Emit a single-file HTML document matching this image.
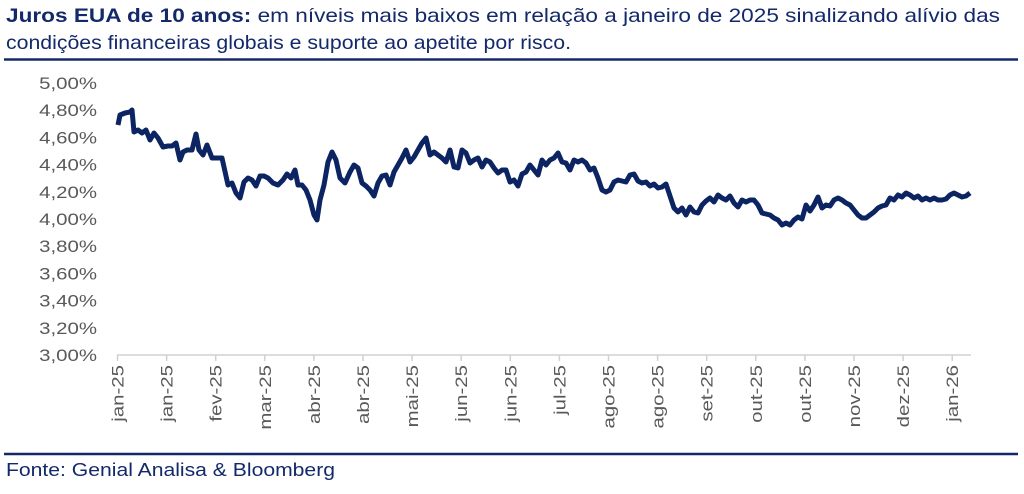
<!DOCTYPE html><html><head><meta charset="utf-8"><style>
body{margin:0;width:1024px;height:489px;background:#fff;overflow:hidden;font-family:"Liberation Sans",sans-serif}
</style></head><body>
<svg width="1024" height="489" xmlns="http://www.w3.org/2000/svg" font-family="Liberation Sans, sans-serif">
<text x="6" y="22" font-size="19.5" fill="#13296a" textLength="994" lengthAdjust="spacingAndGlyphs"><tspan font-weight="bold">Juros EUA de 10 anos:</tspan> em níveis mais baixos em relação a janeiro de 2025 sinalizando alívio das</text>
<text x="6" y="49" font-size="19.5" fill="#13296a" textLength="565" lengthAdjust="spacingAndGlyphs">condições financeiras globais e suporte ao apetite por risco.</text>
<line x1="4" y1="59.5" x2="1018" y2="59.5" stroke="#13296a" stroke-width="2.5"/>
<line x1="4" y1="454" x2="1018" y2="454" stroke="#13296a" stroke-width="2.5"/>
<text x="6" y="476" font-size="18" fill="#13296a" textLength="329" lengthAdjust="spacingAndGlyphs">Fonte: Genial Analisa &amp; Bloomberg</text>
<g font-size="17" fill="#595959" text-anchor="end" id="yl"></g>
<line x1="117" y1="355" x2="971" y2="355" stroke="#d0d0d0" stroke-width="1.5"/>
<g stroke="#d0d0d0" stroke-width="1.5" id="t"></g>
<g font-size="17" fill="#595959" id="xl"></g>
<polyline fill="none" stroke="#0c2461" stroke-width="5" stroke-linejoin="round" points="118,125 120,115 125,113 130,112 132,110 134,132 138,130 142,133 146,130 150,140 154,133 158,138 163,147 168,146 172,146 176,143 180,160 183,152 187,150 192,150 196,134 199,150 203,155 207,145 212,158 216,158 222,158 228,185 232,183 236,193 240,198 244,182 248,178 252,180 256,186 260,176 264,176 268,178 273,183 278,185 283,180 287,174 291,178 295,170 298,185 302,185 306,190 310,200 314,215 317,220 320,200 324,185 328,162 332,152 336,160 340,178 345,183 350,172 354,165 358,168 362,183 366,186 370,190 374,196 378,183 382,176 386,175 390,185 394,172 398,165 402,158 406,150 410,162 414,157 418,150 422,143 426,138 430,155 434,152 438,155 442,158 446,162 450,150 454,167 458,168 462,150 466,153 470,163 474,160 478,158 482,167 486,160 490,162 494,168 498,173 502,170 506,170 510,182 514,180 518,186 522,174 526,172 530,165 534,170 538,175 542,160 546,165 550,160 554,158 558,153 562,162 566,163 570,170 574,160 578,162 582,160 586,163 590,170 594,168 598,178 602,190 606,192 610,190 614,182 618,180 622,181 626,182 630,175 634,174 638,181 642,183 646,182 650,186 654,184 658,188 662,187 666,184 670,196 674,208 678,212 682,208 686,215 690,207 694,212 698,213 702,205 706,201 710,198 714,202 718,195 722,198 726,200 730,196 734,203 738,207 742,200 746,202 750,200 754,200 758,205 762,213 766,214 770,215 774,218 778,220 782,225 786,223 790,225 794,220 798,217 802,219 806,205 810,211 814,205 818,197 822,208 826,205 830,206 834,200 838,198 842,200 846,203 850,205 854,210 858,215 862,218 866,218 870,215 874,212 878,208 882,206 886,205 890,198 894,200 898,195 902,197 906,193 910,195 914,198 918,196 922,200 926,198 930,200 934,198 938,200 942,200 946,199 950,195 954,193 958,195 962,197 966,196 970,193"/>
</svg>
<script>
var ns="http://www.w3.org/2000/svg";
var yl=document.getElementById('yl');
var Y=["5,00%","4,80%","4,60%","4,40%","4,20%","4,00%","3,80%","3,60%","3,40%","3,20%","3,00%"];
for(var i=0;i<11;i++){var s=document.createElementNS(ns,'text');s.setAttribute('x',97);s.setAttribute('y',89+i*27.2);s.textContent=Y[i];yl.appendChild(s);
var w=s.getComputedTextLength();s.setAttribute('textLength',w*1.2);s.setAttribute('lengthAdjust','spacingAndGlyphs');}
var L=["jan-25","jan-25","fev-25","mar-25","abr-25","abr-25","mai-25","jun-25","jun-25","jul-25","ago-25","ago-25","set-25","out-25","out-25","nov-25","dez-25","jan-26"];
var t=document.getElementById('t'),xl=document.getElementById('xl');
for(var i=0;i<18;i++){var x=117.5+i*49.1;
var l=document.createElementNS(ns,'line');l.setAttribute('x1',x);l.setAttribute('x2',x);l.setAttribute('y1',355);l.setAttribute('y2',361);t.appendChild(l);
var s=document.createElementNS(ns,'text');s.setAttribute('transform','translate('+(x+6)+',365) rotate(-90)');s.setAttribute('text-anchor','end');s.textContent=L[i];xl.appendChild(s);
var w=s.getComputedTextLength();s.setAttribute('textLength',w*1.2);s.setAttribute('lengthAdjust','spacingAndGlyphs');}
</script>
</body></html>
